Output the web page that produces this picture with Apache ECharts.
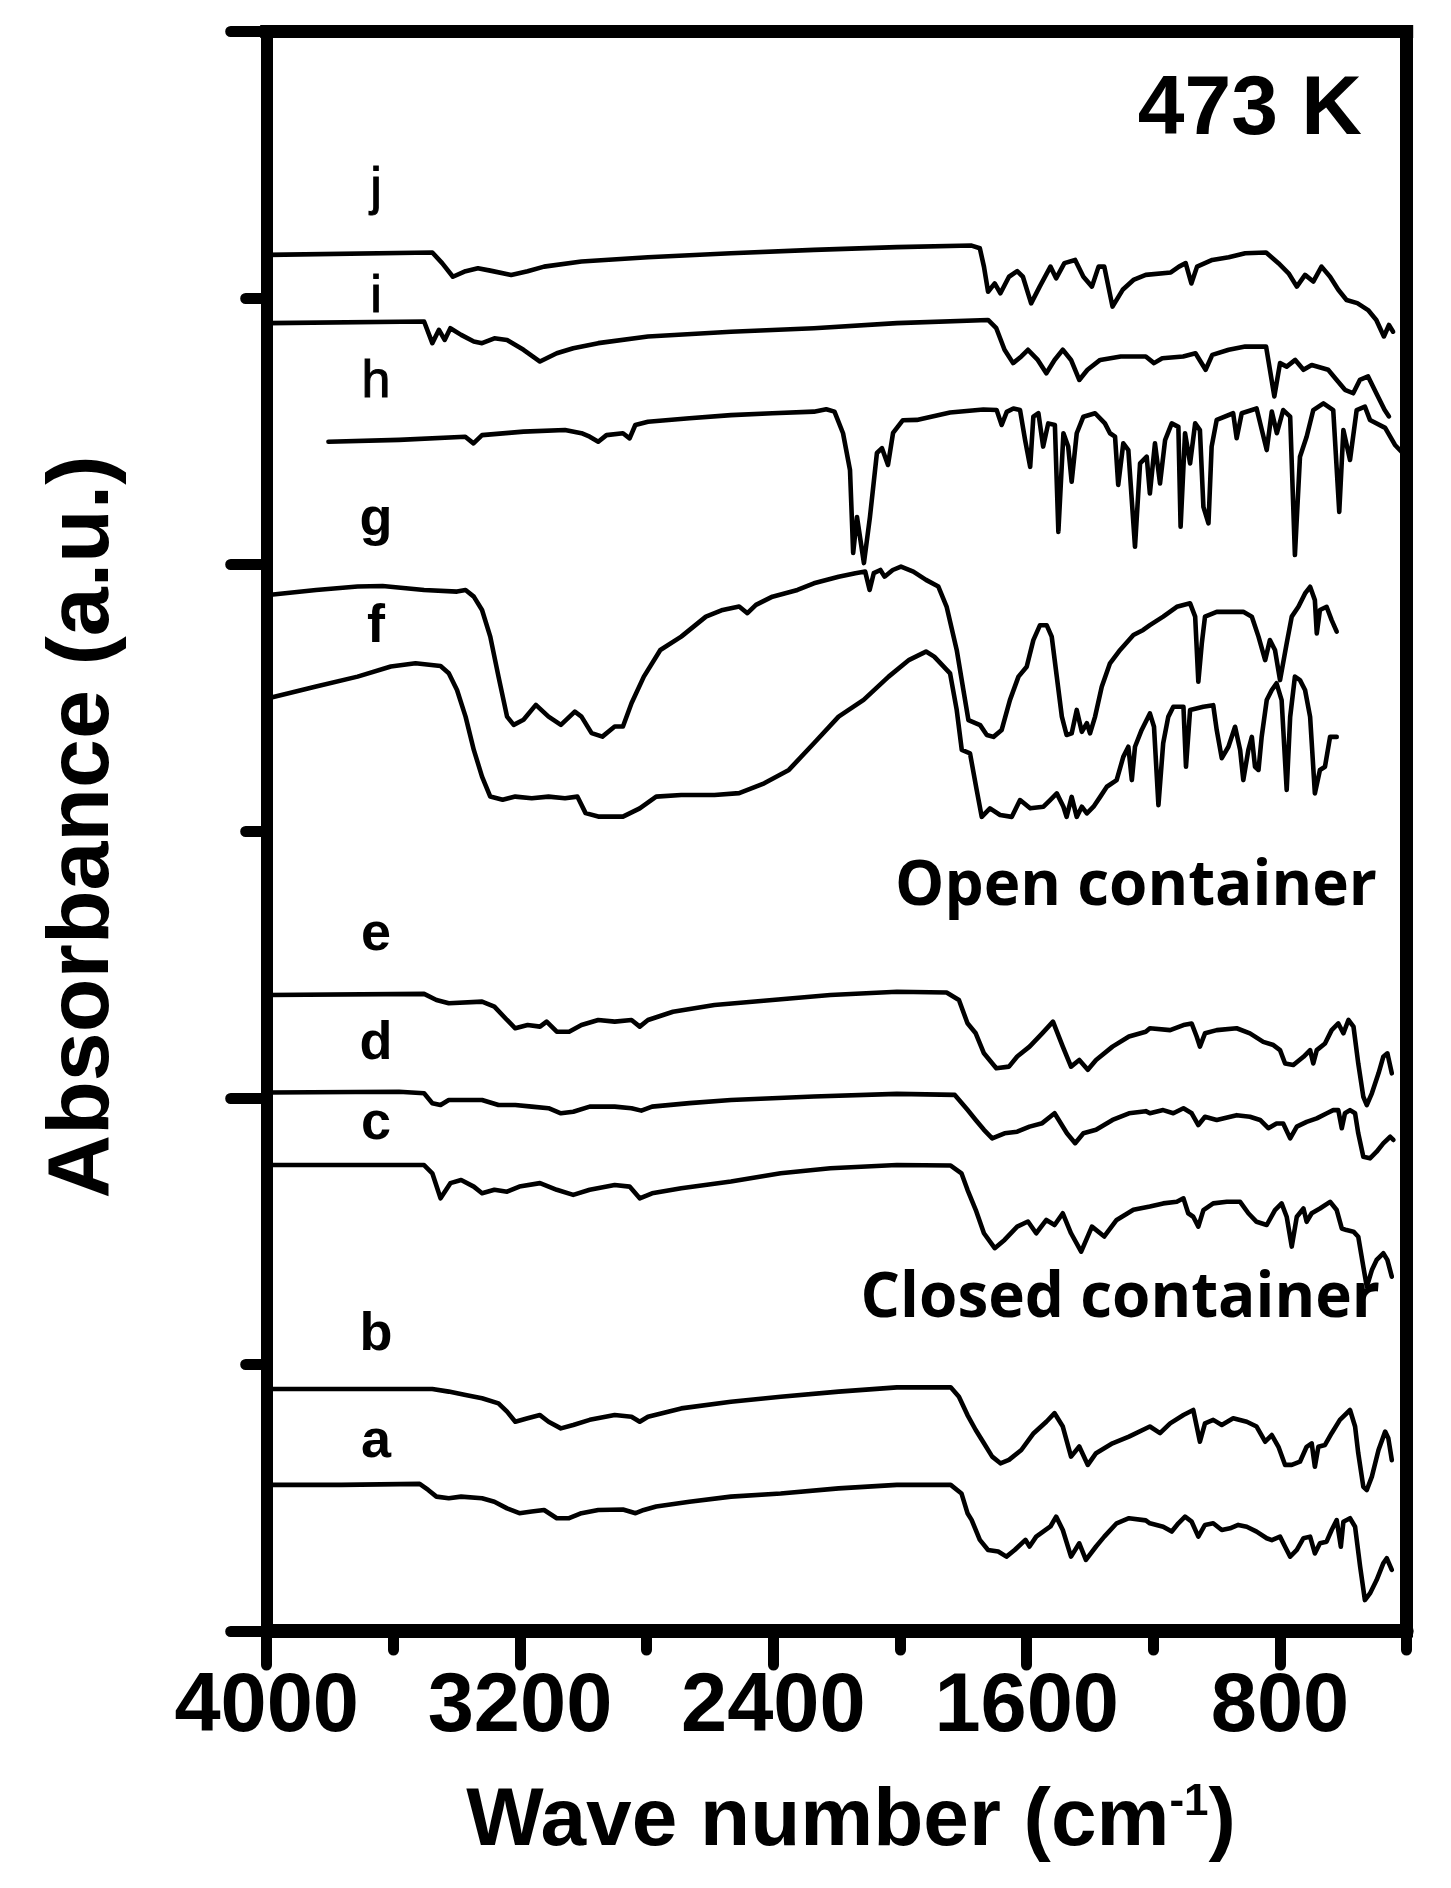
<!DOCTYPE html>
<html>
<head>
<meta charset="utf-8">
<script src="https://cdn.jsdelivr.net/npm/echarts@6/dist/echarts.min.js"></script>
<style>
html,body{margin:0;padding:0;background:#ffffff;}
#c{width:1451px;height:1888px;}
</style>
</head>
<body>
<div id="c"></div>
<script>
// x axis: wave number (cm-1), y axis: absorbance in arbitrary units (0..60)
const xMajorTicks = [800, 1600, 2400, 3200, 4000];
const xMinorTicks = [400, 1200, 2000, 2800, 3600];
const curveNames = ['j', 'i', 'h', 'g', 'f', 'e', 'd', 'c', 'b', 'a'];

const curveJ = [[3995,51.62],[3477,51.71],[3446,51.31],[3412,50.80],[3372,51.01],[3333,51.12],[3294,51.03],[3228,50.87],[3176,51.01],[3124,51.18],[3006,51.37],[2796,51.53],[2534,51.68],[2272,51.81],[2010,51.91],[1774,51.97],[1748,51.87],[1735,51.18],[1722,50.24],[1701,50.55],[1683,50.18],[1656,50.80],[1630,51.01],[1612,50.80],[1586,49.80],[1559,50.43],[1525,51.18],[1507,50.74],[1481,51.31],[1447,51.43],[1421,50.80],[1394,50.43],[1373,51.18],[1355,51.18],[1329,49.68],[1297,50.31],[1263,50.68],[1224,50.87],[1145,50.96],[1119,51.18],[1098,51.31],[1080,50.55],[1062,51.18],[1014,51.43],[962,51.53],[910,51.68],[844,51.71],[805,51.31],[773,50.93],[747,50.43],[721,50.87],[695,50.62],[669,51.18],[642,50.80],[616,50.31],[590,49.93],[556,49.81],[522,49.55],[496,49.18],[472,48.56],[456,48.99],[443,48.74]];

const curveI = [[3995,49.06],[3503,49.12],[3477,48.31],[3456,48.81],[3438,48.43],[3420,48.87],[3386,48.62],[3346,48.37],[3320,48.31],[3281,48.49],[3241,48.43],[3189,48.06],[3137,47.62],[3084,47.93],[3032,48.12],[2953,48.31],[2796,48.56],[2534,48.74],[2272,48.87],[2010,49.06],[1722,49.18],[1696,48.87],[1670,48.06],[1643,47.56],[1617,47.81],[1596,48.06],[1565,47.68],[1538,47.18],[1512,47.68],[1486,48.06],[1460,47.68],[1434,46.93],[1408,47.31],[1368,47.68],[1303,47.81],[1224,47.81],[1198,47.56],[1172,47.74],[1106,47.81],[1067,47.93],[1035,47.31],[1014,47.87],[962,48.06],[910,48.18],[844,48.18],[818,46.31],[800,47.56],[779,47.43],[752,47.68],[726,47.31],[700,47.49],[648,47.31],[621,46.93],[595,46.56],[569,46.43],[548,46.93],[522,47.06],[496,46.43],[470,45.81],[456,45.56]];

const curveH = [[3805,44.61],[3582,44.68],[3373,44.80],[3347,44.55],[3320,44.86],[3189,44.99],[3058,45.05],[3006,44.93],[2980,44.80],[2953,44.61],[2927,44.86],[2875,44.93],[2854,44.74],[2836,45.24],[2796,45.36],[2665,45.49],[2534,45.61],[2403,45.68],[2272,45.74],[2233,45.83],[2207,45.74],[2180,44.93],[2158,43.55],[2148,40.44],[2136,41.79],[2114,40.06],[2095,41.79],[2073,44.19],[2057,44.37],[2038,43.74],[2022,44.94],[1991,45.42],[1947,45.43],[1842,45.71],[1737,45.82],[1695,45.80],[1679,45.24],[1663,45.73],[1642,45.86],[1621,45.80],[1605,44.67],[1589,43.67],[1579,45.55],[1563,45.68],[1548,44.43],[1532,45.30],[1511,45.24],[1500,41.23],[1484,44.93],[1469,44.43],[1458,43.11],[1442,44.93],[1421,45.55],[1384,45.68],[1353,45.30],[1337,44.93],[1321,44.80],[1311,42.99],[1295,44.55],[1279,44.30],[1258,40.67],[1242,43.80],[1221,44.05],[1211,42.67],[1195,44.55],[1179,43.05],[1163,44.67],[1142,45.30],[1121,45.17],[1114,41.42],[1100,44.93],[1084,43.80],[1068,45.30],[1053,45.05],[1042,42.17],[1026,41.55],[1016,44.43],[1000,45.43],[948,45.68],[937,44.74],[921,45.68],[874,45.86],[842,44.30],[826,45.74],[810,44.93],[790,45.80],[768,45.55],[753,40.36],[737,44.05],[716,44.80],[695,45.80],[663,46.05],[632,45.80],[613,41.98],[600,45.05],[579,43.93],[558,45.80],[532,45.93],[516,45.43],[468,45.13],[437,44.49],[412,44.18]];

const curveG = [[3995,38.86],[3844,39.05],[3713,39.18],[3634,39.20],[3503,39.05],[3399,38.99],[3372,39.05],[3346,38.80],[3320,38.30],[3294,37.30],[3268,35.80],[3241,34.30],[3220,33.99],[3189,34.18],[3150,34.74],[3110,34.30],[3071,33.99],[3027,34.49],[3006,34.30],[2974,33.68],[2940,33.55],[2901,33.93],[2875,33.93],[2848,34.80],[2809,35.80],[2757,36.80],[2691,37.30],[2613,38.05],[2560,38.30],[2508,38.43],[2482,38.18],[2455,38.49],[2403,38.80],[2324,39.05],[2272,39.30],[2194,39.55],[2141,39.68],[2110,39.74],[2096,39.05],[2083,39.68],[2062,39.80],[2049,39.55],[2023,39.80],[1997,39.93],[1958,39.74],[1918,39.43],[1879,39.18],[1853,38.43],[1821,36.80],[1800,35.30],[1784,34.17],[1747,33.98],[1726,33.61],[1705,33.54],[1679,33.80],[1653,34.92],[1626,35.80],[1600,36.17],[1579,37.17],[1558,37.73],[1537,37.73],[1521,37.30],[1505,35.80],[1489,34.30],[1474,33.61],[1458,33.67],[1442,34.55],[1426,33.73],[1410,34.05],[1400,33.67],[1384,34.30],[1363,35.42],[1337,36.30],[1305,36.80],[1263,37.36],[1232,37.55],[1211,37.73],[1169,38.05],[1126,38.42],[1084,38.55],[1068,38.05],[1058,35.61],[1047,37.05],[1037,38.05],[1000,38.23],[916,38.23],[889,38.05],[868,37.30],[847,36.42],[832,37.17],[816,36.80],[800,35.67],[779,37.05],[763,38.05],[742,38.42],[721,38.92],[705,39.17],[690,38.67],[684,37.42],[674,38.30],[653,38.42],[637,37.92],[621,37.49]];

const curveF = [[3995,34.99],[3844,35.43],[3713,35.80],[3608,36.18],[3530,36.30],[3451,36.20],[3425,35.93],[3399,35.30],[3372,34.30],[3346,33.05],[3320,32.05],[3294,31.30],[3255,31.18],[3215,31.30],[3163,31.24],[3110,31.30],[3058,31.24],[3019,31.30],[2993,30.68],[2953,30.55],[2875,30.55],[2822,30.86],[2770,31.30],[2691,31.36],[2586,31.36],[2508,31.43],[2429,31.80],[2351,32.30],[2272,33.30],[2194,34.30],[2115,34.93],[2036,35.80],[1971,36.43],[1918,36.74],[1892,36.55],[1842,35.92],[1821,34.55],[1805,33.05],[1779,32.92],[1758,31.55],[1742,30.54],[1716,30.86],[1684,30.61],[1647,30.54],[1621,31.17],[1589,30.86],[1547,30.92],[1526,31.17],[1505,31.42],[1484,30.92],[1474,30.54],[1458,31.29],[1442,30.54],[1426,30.92],[1410,30.67],[1389,30.92],[1368,31.29],[1347,31.67],[1316,31.92],[1295,32.79],[1279,33.17],[1268,31.92],[1258,33.17],[1237,33.80],[1211,34.42],[1198,33.92],[1184,30.98],[1169,33.30],[1153,34.29],[1137,34.67],[1105,34.67],[1097,32.42],[1084,34.55],[1042,34.67],[1011,34.73],[1000,33.80],[984,32.74],[963,33.17],[942,33.92],[926,33.05],[916,31.92],[900,33.05],[889,33.54],[879,32.42],[868,32.30],[858,33.54],[842,34.92],[826,35.30],[811,35.55],[795,34.92],[779,31.55],[768,34.29],[753,35.80],[737,35.67],[721,35.30],[705,34.29],[690,31.42],[674,32.30],[658,32.42],[642,33.54],[621,33.54]];

const curveE = [[3995,23.86],[3503,23.90],[3464,23.67],[3425,23.55],[3320,23.61],[3281,23.42],[3241,22.92],[3215,22.61],[3176,22.73],[3137,22.67],[3116,22.86],[3084,22.48],[3045,22.48],[3006,22.73],[2953,22.92],[2901,22.86],[2848,22.92],[2822,22.67],[2796,22.92],[2717,23.23],[2586,23.48],[2403,23.67],[2220,23.86],[2010,23.98],[1853,23.95],[1814,23.67],[1787,22.80],[1761,22.42],[1735,21.67],[1696,21.11],[1656,21.17],[1630,21.55],[1591,21.92],[1551,22.42],[1517,22.86],[1486,21.92],[1460,21.17],[1434,21.42],[1407,21.05],[1381,21.42],[1329,21.92],[1277,22.30],[1224,22.48],[1211,22.61],[1147,22.54],[1105,22.73],[1079,22.79],[1063,22.29],[1053,21.92],[1037,22.42],[1000,22.54],[937,22.61],[895,22.42],[853,22.10],[821,21.98],[800,21.79],[784,21.29],[758,21.23],[726,21.54],[705,21.79],[695,21.29],[684,21.79],[658,22.04],[637,22.54],[616,22.79],[600,22.42],[584,22.92],[568,22.67],[553,21.29],[537,20.04],[526,19.73],[510,20.17],[489,20.92],[474,21.54],[461,21.67],[447,20.92]];

const curveD = [[3995,20.20],[3582,20.23],[3503,20.17],[3477,19.80],[3451,19.73],[3425,19.92],[3372,19.92],[3320,19.92],[3268,19.73],[3215,19.73],[3163,19.67],[3110,19.61],[3071,19.42],[3032,19.48],[2980,19.67],[2901,19.67],[2848,19.61],[2817,19.52],[2783,19.67],[2665,19.80],[2534,19.92],[2272,20.05],[2010,20.15],[1827,20.11],[1787,19.55],[1761,19.17],[1735,18.80],[1709,18.48],[1670,18.67],[1630,18.73],[1591,18.92],[1551,19.05],[1512,19.42],[1473,18.67],[1447,18.30],[1421,18.67],[1381,18.80],[1329,19.17],[1277,19.42],[1224,19.50],[1211,19.42],[1169,19.54],[1137,19.42],[1105,19.61],[1079,19.42],[1058,18.98],[1037,19.29],[1000,19.17],[937,19.35],[895,19.29],[863,19.17],[837,18.86],[811,19.04],[790,19.04],[768,18.48],[747,18.92],[716,19.10],[684,19.23],[652,19.42],[632,19.54],[616,19.54],[605,18.86],[595,19.42],[579,19.54],[563,19.42],[553,18.67],[537,17.79],[516,17.73],[495,17.98],[474,18.29],[452,18.54],[442,18.42]];

const curveC = [[3995,17.48],[3503,17.48],[3477,17.17],[3451,16.23],[3420,16.80],[3386,16.92],[3346,16.67],[3320,16.42],[3281,16.55],[3241,16.48],[3202,16.67],[3137,16.80],[3084,16.55],[3032,16.36],[2980,16.55],[2901,16.73],[2854,16.67],[2822,16.23],[2783,16.42],[2691,16.61],[2534,16.86],[2377,17.17],[2220,17.36],[2010,17.48],[1840,17.46],[1806,17.17],[1787,16.55],[1761,15.80],[1735,14.92],[1701,14.36],[1670,14.67],[1630,15.17],[1596,15.36],[1570,14.92],[1538,15.42],[1512,15.23],[1486,15.67],[1460,14.92],[1428,14.23],[1394,15.17],[1355,14.80],[1316,15.42],[1263,15.80],[1211,15.92],[1169,16.04],[1126,16.10],[1105,16.23],[1090,15.67],[1074,15.54],[1058,15.17],[1042,15.79],[1011,16.04],[968,16.10],[926,16.10],[900,15.67],[874,15.35],[842,15.23],[816,15.79],[795,16.04],[779,15.54],[763,14.42],[747,15.54],[726,15.85],[716,15.35],[700,15.67],[674,15.85],[642,16.10],[621,15.79],[605,15.10],[590,15.04],[568,14.98],[553,14.79],[537,13.67],[526,12.91],[510,13.54],[495,13.92],[474,14.17],[461,13.92],[447,13.29]];

const curveB = [[3995,9.08],[3477,9.08],[3425,8.98],[3372,8.85],[3320,8.73],[3268,8.54],[3241,8.23],[3215,7.85],[3176,7.98],[3137,8.10],[3110,7.85],[3071,7.60],[3032,7.73],[2980,7.92],[2901,8.10],[2848,8.04],[2822,7.85],[2796,8.04],[2691,8.35],[2534,8.60],[2377,8.79],[2194,8.98],[2010,9.14],[1840,9.14],[1814,8.79],[1787,8.10],[1761,7.54],[1735,7.04],[1709,6.54],[1683,6.29],[1656,6.42],[1617,6.79],[1578,7.42],[1538,7.85],[1512,8.17],[1486,7.67],[1460,6.54],[1434,6.92],[1407,6.23],[1381,6.67],[1329,7.04],[1277,7.29],[1211,7.67],[1179,7.42],[1147,7.79],[1105,8.10],[1074,8.29],[1063,7.67],[1053,7.10],[1037,7.79],[1011,7.92],[984,7.73],[948,7.98],[905,7.85],[874,7.67],[847,7.10],[826,7.35],[805,6.91],[784,6.23],[763,6.23],[737,6.35],[716,6.91],[700,7.04],[690,6.16],[679,6.91],[658,6.98],[637,7.42],[611,7.92],[579,8.29],[563,7.67],[553,6.67],[537,5.41],[526,5.29],[510,5.79],[489,6.79],[468,7.48],[458,7.23],[447,6.41]];

const curveA = [[3995,5.48],[3765,5.48],[3517,5.52],[3490,5.29],[3464,5.04],[3425,4.98],[3386,5.04],[3320,4.98],[3281,4.85],[3241,4.60],[3202,4.42],[3163,4.48],[3124,4.54],[3084,4.23],[3045,4.23],[3006,4.42],[2953,4.54],[2875,4.56],[2835,4.42],[2809,4.54],[2770,4.67],[2665,4.85],[2534,5.04],[2377,5.16],[2194,5.35],[2010,5.48],[1840,5.48],[1806,5.16],[1787,4.42],[1774,4.17],[1748,3.42],[1722,3.04],[1690,2.98],[1664,2.79],[1638,3.04],[1604,3.42],[1591,3.17],[1570,3.54],[1525,3.92],[1507,4.29],[1486,3.79],[1460,2.79],[1434,3.29],[1413,2.67],[1381,3.17],[1355,3.54],[1316,4.04],[1277,4.23],[1224,4.15],[1211,4.04],[1169,3.91],[1142,3.73],[1121,4.04],[1100,4.29],[1079,4.10],[1058,3.54],[1037,3.98],[1011,4.04],[984,3.79],[958,3.85],[932,3.98],[905,3.91],[874,3.73],[842,3.48],[826,3.41],[800,3.54],[784,3.16],[768,2.79],[747,3.04],[726,3.48],[705,3.54],[690,2.91],[674,3.29],[653,3.35],[637,3.79],[621,4.16],[608,3.16],[600,4.10],[579,4.23],[563,3.91],[547,2.41],[532,1.16],[516,1.41],[495,1.91],[474,2.54],[463,2.73],[447,2.29]];

const curveData = [curveJ, curveI, curveH, curveG, curveF, curveE, curveD, curveC, curveB, curveA];

const chart = echarts.init(document.getElementById('c'), null, {renderer: 'canvas', width: 1451, height: 1888});

const BLACK = '#000000';
const fontFam = '"Liberation Sans", Arial, sans-serif';

const series = curveData.map((d, i) => ({
  name: curveNames[i],
  type: 'line',
  xAxisIndex: 0,
  yAxisIndex: 0,
  data: d,
  showSymbol: false,
  symbol: 'none',
  smooth: false,
  silent: true,
  lineStyle: {color: BLACK, width: 4.6, join: 'round', cap: 'round'},
  z: 5
}));

const labelStyleTop = {font: 'normal 52px ' + fontFam, fill: BLACK, stroke: BLACK, lineWidth: 1, textAlign: 'center', align: 'center', textVerticalAlign: 'middle', verticalAlign: 'middle'};
const labelStyleBottom = {font: 'bold 54px ' + fontFam, fill: BLACK, textAlign: 'center', align: 'center', textVerticalAlign: 'middle', verticalAlign: 'middle'};
const labelY = [190, 298, 383, 520, 627, 935, 1044, 1124, 1335, 1442];

const graphics = curveNames.map((n, i) => ({
  type: 'text', x: 376, y: labelY[i], silent: true, z: 10,
  style: Object.assign({text: n}, i < 3 ? labelStyleTop : labelStyleBottom)
}));

graphics.push({
  type: 'text', x: 1362, y: 111, z: 10, silent: true,
  style: {text: '473 K', font: 'bold 84px ' + fontFam, fill: BLACK, textAlign: 'right', align: 'right', textVerticalAlign: 'middle', verticalAlign: 'middle'}
});
graphics.push({
  type: 'text', x: 1377, y: 887, z: 10, silent: true,
  style: {text: 'Open container', font: 'bold 62px "Open Sans", sans-serif', fill: BLACK, textAlign: 'right', align: 'right', textVerticalAlign: 'middle', verticalAlign: 'middle'}
});
graphics.push({
  type: 'text', x: 1380, y: 1299, z: 10, silent: true,
  style: {text: 'Closed container', font: 'bold 62px "Open Sans", sans-serif', fill: BLACK, textAlign: 'right', align: 'right', textVerticalAlign: 'middle', verticalAlign: 'middle'}
});
graphics.push({
  type: 'text', x: 851, y: 1822, z: 10, silent: true,
  style: {
    text: '{m|Wave number (cm}{s|-1}{m|)}',
    fill: BLACK, textAlign: 'center', align: 'center', textVerticalAlign: 'middle', verticalAlign: 'middle',
    rich: {
      m: {font: 'bold 82px ' + fontFam, fill: BLACK},
      s: {font: 'bold 44px ' + fontFam, fill: BLACK, verticalAlign: 'top'}
    }
  }
});
graphics.push({
  type: 'text', x: 84, y: 827, rotation: Math.PI / 2, z: 10, silent: true,
  style: {text: 'Absorbance (a.u.)', font: 'bold 88px ' + fontFam, fill: BLACK, textAlign: 'center', align: 'center', textVerticalAlign: 'middle', verticalAlign: 'middle'}
});

const option = {
  backgroundColor: '#ffffff',
  animation: false,
  grid: {left: 266.7, right: 44.3, top: 31.5, bottom: 257, containLabel: false},
  xAxis: [
    {
      type: 'value', position: 'bottom', inverse: true, min: 400, max: 4000, interval: 400,
      axisLine: {show: true, onZero: false, lineStyle: {color: BLACK, width: 14}},
      axisTick: {show: true, customValues: xMajorTicks, length: 34, lineStyle: {color: BLACK, width: 11, cap: 'round'}},
      axisLabel: {show: true, customValues: xMajorTicks, margin: 36, color: BLACK, fontSize: 83, fontWeight: 'bold', fontFamily: fontFam, formatter: v => String(v)},
      splitLine: {show: false}
    },
    {
      type: 'value', position: 'bottom', inverse: true, min: 400, max: 4000, interval: 400,
      axisLine: {show: false},
      axisTick: {show: true, customValues: xMinorTicks, length: 19, lineStyle: {color: BLACK, width: 11, cap: 'round'}},
      axisLabel: {show: false},
      splitLine: {show: false}
    },
    {
      type: 'value', position: 'top', inverse: true, min: 400, max: 4000, interval: 400,
      axisLine: {show: true, onZero: false, lineStyle: {color: BLACK, width: 13, cap: 'square'}},
      axisTick: {show: false}, axisLabel: {show: false}, splitLine: {show: false}
    }
  ],
  yAxis: [
    {
      type: 'value', position: 'left', min: 0, max: 60, interval: 20,
      axisLine: {show: true, onZero: false, lineStyle: {color: BLACK, width: 12}},
      axisTick: {show: true, length: 36, lineStyle: {color: BLACK, width: 11, cap: 'round'}},
      minorTick: {show: true, splitNumber: 2, length: 21, lineStyle: {color: BLACK, width: 11, cap: 'round'}},
      axisLabel: {show: false},
      splitLine: {show: false}, minorSplitLine: {show: false}
    },
    {
      type: 'value', position: 'right', min: 0, max: 60, interval: 20,
      axisLine: {show: true, onZero: false, lineStyle: {color: BLACK, width: 13, cap: 'square'}},
      axisTick: {show: false}, axisLabel: {show: false}, splitLine: {show: false}
    }
  ],
  series: series,
  graphic: {elements: graphics}
};

chart.setOption(option);
</script>
</body>
</html>
